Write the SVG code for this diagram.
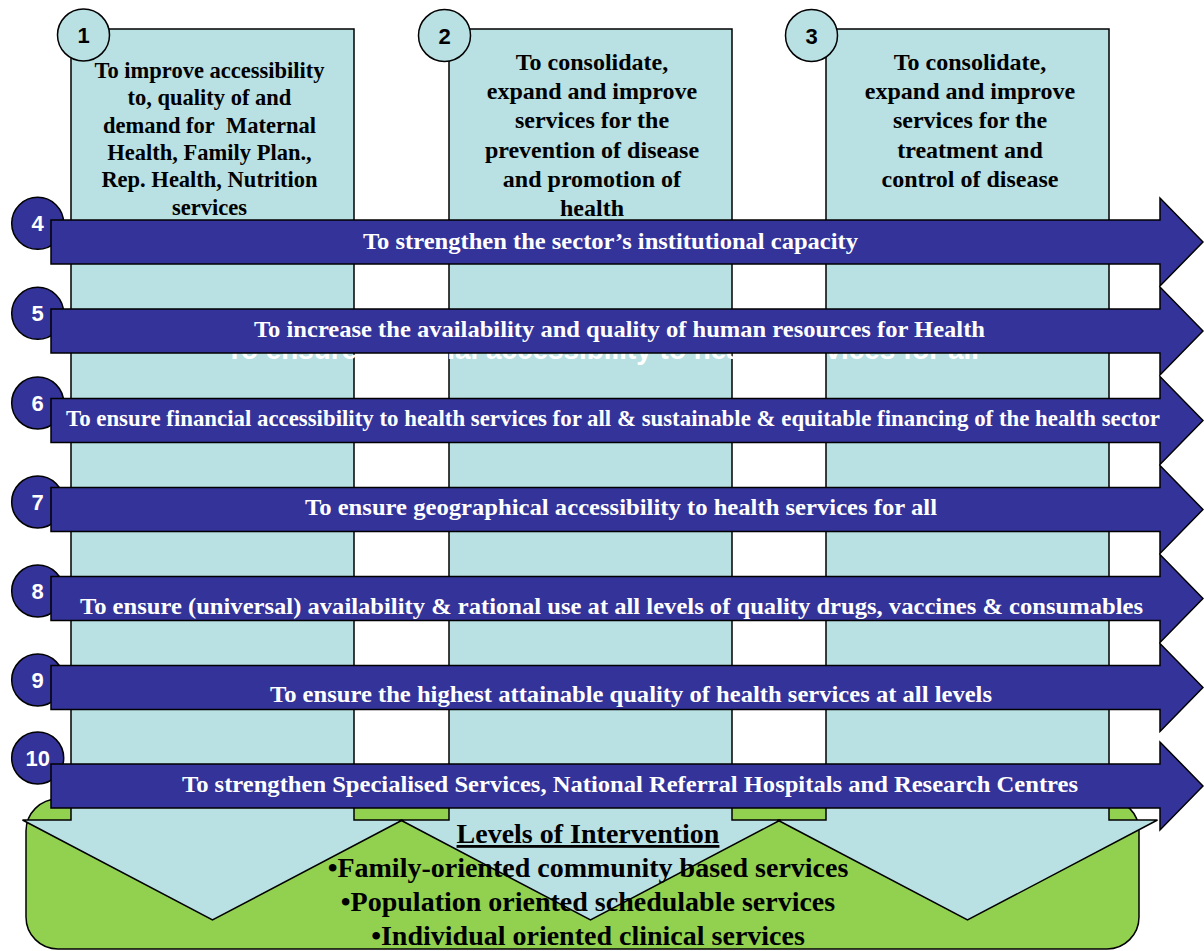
<svg xmlns="http://www.w3.org/2000/svg" width="1204" height="951" viewBox="0 0 1204 951">
<style>
.col{fill:#B9E0E3;stroke:#000;stroke-width:1.5}
.arr{fill:#333399;stroke:#000;stroke-width:1.5}
.dc{fill:#333399;stroke:#000;stroke-width:1.5}
.lc{fill:#B9E0E3;stroke:#000;stroke-width:1.5}
.num{font-family:"Liberation Sans",Arial,sans-serif;font-weight:bold;font-size:22px;text-anchor:middle}
.wn{fill:#fff}
.bn{fill:#000}
.ct{font-family:"Liberation Serif","Times New Roman",serif;font-weight:bold;text-anchor:middle;fill:#000}
.at{font-family:"Liberation Serif","Times New Roman",serif;font-weight:bold;font-size:24px;fill:#fff;text-anchor:middle}
.lv{font-family:"Liberation Serif","Times New Roman",serif;font-weight:bold;font-size:28px;fill:#000;text-anchor:middle}
</style>
<rect width="1204" height="951" fill="#fff"/>
<g id="levels-box">
<rect x="26" y="799" width="1113" height="150" rx="32" ry="32" fill="#92D050" stroke="#000" stroke-width="1.5"/>
</g>
<g id="col1">
<polygon class="col" points="71,29 354,29 354,820 402.5,820 212.5,920 22.5,820 71,820"/>
</g>
<g id="col2">
<polygon class="col" points="449,29 732,29 732,820 780.5,820 590.5,920 400.5,820 449,820"/>
</g>
<g id="col3">
<polygon class="col" points="826,29 1109,29 1109,820 1157.5,820 967.5,920 777.5,820 826,820"/>
</g>
<g id="obj1">
<circle class="lc" cx="83.5" cy="35" r="26"/>
<text class="num bn" x="83.5" y="43">1</text>
<text class="ct" font-size="22.5px" x="209.5"><tspan x="209.5" y="78">To improve accessibility</tspan><tspan x="209.5" y="105.3">to, quality of and</tspan><tspan x="209.5" y="132.6">demand for&#160; Maternal</tspan><tspan x="209.5" y="160">Health, Family Plan.,</tspan><tspan x="209.5" y="187.3">Rep. Health, Nutrition</tspan><tspan x="209.5" y="214.6">services</tspan></text>
</g>
<g id="obj2">
<circle class="lc" cx="444.5" cy="35.5" r="26"/>
<text class="num bn" x="444.5" y="43.5">2</text>
<text class="ct" font-size="24px" x="592"><tspan x="592" y="69.5">To consolidate,</tspan><tspan x="592" y="99">expand and improve</tspan><tspan x="592" y="128.3">services for the</tspan><tspan x="592" y="157.6">prevention of disease</tspan><tspan x="592" y="187">and promotion of</tspan><tspan x="592" y="216.3">health</tspan></text>
</g>
<g id="obj3">
<circle class="lc" cx="811.5" cy="35.5" r="26"/>
<text class="num bn" x="811.5" y="43.5">3</text>
<text class="ct" font-size="24px" x="970"><tspan x="970" y="69.5">To consolidate,</tspan><tspan x="970" y="99">expand and improve</tspan><tspan x="970" y="128.3">services for the</tspan><tspan x="970" y="157.6">treatment and</tspan><tspan x="970" y="187">control of disease</tspan></text>
</g>
<g id="ghost-text">
<text x="226" y="359" font-family="'Liberation Sans',Arial,sans-serif" font-weight="bold" font-size="27.5px" fill="#fff" textLength="753" lengthAdjust="spacingAndGlyphs">To ensure financial accessibility to health services for all</text>
</g>
<g id="connectors">
<g id="obj4">
<circle class="dc" cx="37.7" cy="223.3" r="26"/>
<text class="num wn" x="37.7" y="231.3">4</text>
<polygon class="arr" points="51,220 1160,220 1160,198 1203,242 1160,286 1160,264 51,264"/>
<text class="at" x="610.5" y="249" textLength="495" lengthAdjust="spacingAndGlyphs">To strengthen the sector’s institutional capacity</text>
</g>
<g id="obj5">
<circle class="dc" cx="37.7" cy="313.3" r="26"/>
<text class="num wn" x="37.7" y="321.3">5</text>
<polygon class="arr" points="51,309 1160,309 1160,287 1203,331 1160,375 1160,353 51,353"/>
<text class="at" x="619.5" y="337" textLength="731" lengthAdjust="spacingAndGlyphs">To increase the availability and quality of human resources for Health</text>
</g>
<g id="obj6">
<circle class="dc" cx="37.7" cy="403" r="26"/>
<text class="num wn" x="37.7" y="411">6</text>
<polygon class="arr" points="51,398.5 1160,398.5 1160,376.5 1203,420.5 1160,464.5 1160,442.5 51,442.5"/>
<text class="at" font-size="22.8px" x="613" y="426" textLength="1094" lengthAdjust="spacingAndGlyphs">To ensure financial accessibility to health services for all &amp; sustainable &amp; equitable financing of the health sector</text>
</g>
<g id="obj7">
<circle class="dc" cx="37.7" cy="502" r="26"/>
<text class="num wn" x="37.7" y="510">7</text>
<polygon class="arr" points="51,487.5 1160,487.5 1160,465.5 1203,509.5 1160,553.5 1160,531.5 51,531.5"/>
<text class="at" x="621" y="515" textLength="632" lengthAdjust="spacingAndGlyphs">To ensure geographical accessibility to health services for all</text>
</g>
<g id="obj8">
<circle class="dc" cx="37.7" cy="591" r="26"/>
<text class="num wn" x="37.7" y="599">8</text>
<polygon class="arr" points="51,576.5 1160,576.5 1160,554.5 1203,598.5 1160,642.5 1160,620.5 51,620.5"/>
<text class="at" x="611.5" y="614" textLength="1063" lengthAdjust="spacingAndGlyphs">To ensure (universal) availability &amp; rational use at all levels of quality drugs, vaccines &amp; consumables</text>
</g>
<g id="obj9">
<circle class="dc" cx="37.7" cy="680" r="26"/>
<text class="num wn" x="37.7" y="688">9</text>
<polygon class="arr" points="51,665.5 1160,665.5 1160,643.5 1203,687.5 1160,731.5 1160,709.5 51,709.5"/>
<text class="at" x="631" y="702" textLength="722" lengthAdjust="spacingAndGlyphs">To ensure the highest attainable quality of health services at all levels</text>
</g>
<g id="obj10">
<circle class="dc" cx="37.7" cy="758" r="26"/>
<text class="num wn" x="37.7" y="766">10</text>
<polygon class="arr" points="51,764 1160,764 1160,742 1203,786 1160,830 1160,808 51,808"/>
<text class="at" x="630" y="792" textLength="896" lengthAdjust="spacingAndGlyphs">To strengthen Specialised Services, National Referral Hospitals and Research Centres</text>
</g>
</g>
<g id="levels-text">
<text class="lv" x="588" y="843" text-decoration="underline">Levels of Intervention</text>
<text class="lv" x="588" y="877">•Family-oriented community based services</text>
<text class="lv" x="588" y="911">•Population oriented schedulable services</text>
<text class="lv" x="588" y="945">•Individual oriented clinical services</text>
</g>
</svg>
